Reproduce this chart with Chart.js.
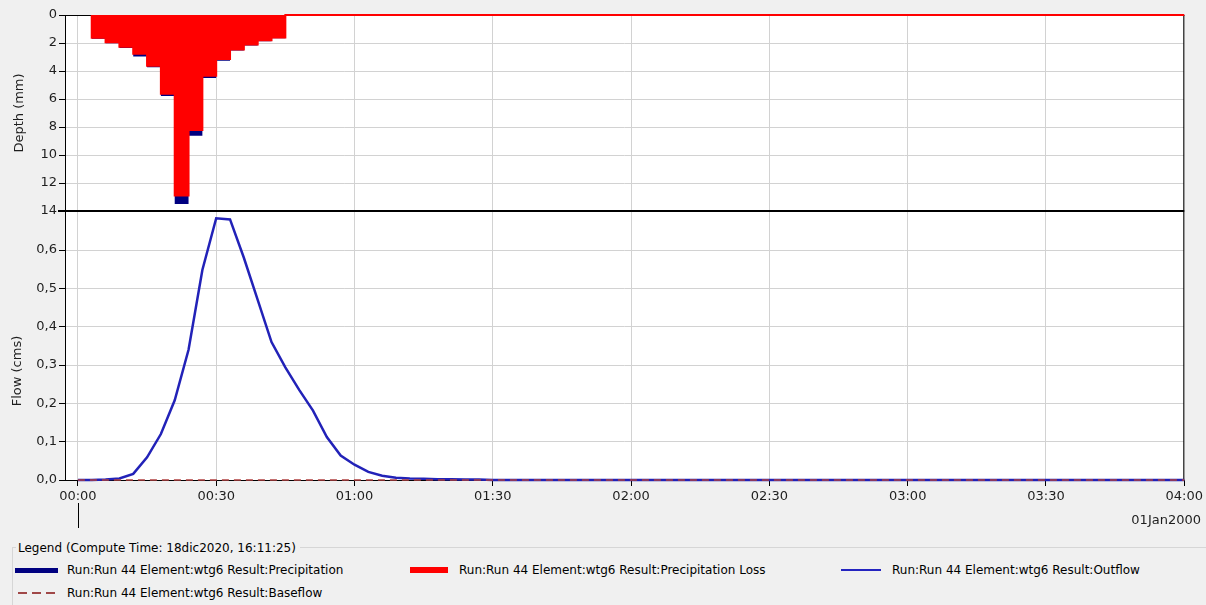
<!DOCTYPE html>
<html>
<head>
<meta charset="utf-8">
<title>wtg6 - Precipitation / Outflow</title>
<script src="https://cdn.jsdelivr.net/npm/chart.js@4.4.0/dist/chart.umd.min.js"></script>
<style>
  html, body { margin: 0; padding: 0; background: #f0f0f0; }
  body { font-family: "DejaVu Sans", sans-serif; font-size: 12px; color: #000; }
  #wrap { position: relative; width: 1206px; height: 605px; overflow: hidden; }
  #hmsChart { position: absolute; left: 0; top: 0; }
  .lg { position: absolute; white-space: nowrap; line-height: 14px; }
  .sw { position: absolute; }
  #lgBox { position: absolute; left: 12px; top: 547px; width: 1194px; height: 60px;
           border-top: 1px solid #d6d6d6; border-left: 1px solid #d6d6d6; }
  #lgTitle { background: #f0f0f0; padding: 0 4px 0 2px; }
</style>
</head>
<body>
<div id="wrap">
  <canvas id="hmsChart" width="1206" height="540"></canvas>

  <div id="lgBox"></div>
  <div class="lg" id="lgTitle" style="left:16px; top:541px;">Legend (Compute Time: 18dic2020, 16:11:25)</div>

  <div class="sw" style="left:15px; top:568px; width:43px; height:5px; background:#000080;"></div>
  <div class="lg" style="left:67px; top:563px;">Run:Run 44 Element:wtg6 Result:Precipitation</div>

  <div class="sw" style="left:410px; top:567px; width:38px; height:6px; background:#ff0000;"></div>
  <div class="lg" style="left:459px; top:563px;">Run:Run 44 Element:wtg6 Result:Precipitation Loss</div>

  <div class="sw" style="left:841px; top:569px; width:40px; height:2px; background:#2424c0;"></div>
  <div class="lg" style="left:892px; top:563px;">Run:Run 44 Element:wtg6 Result:Outflow</div>

  <div class="sw" style="left:18px; top:592px; width:40px; height:2px;
       background:repeating-linear-gradient(90deg, #a04848 0 9px, transparent 9px 14px);"></div>
  <div class="lg" style="left:67px; top:586px;">Run:Run 44 Element:wtg6 Result:Baseflow</div>
</div>

<script>
// time in minutes from 01Jan2000 00:00
// precipitation: value at interval end time (3 min step)
const precipTimes = [3, 6, 9, 12, 15, 18, 21, 24, 27, 30, 33, 36, 39, 42, 45, 48, 240];
const precipDepth = [0, 1.7, 2.02, 2.35, 2.96, 3.74, 5.78, 13.5, 8.62, 4.5, 3.27, 2.54, 2.17, 1.88, 1.66, 0, 0];
const lossDepth   = [0, 1.62, 1.95, 2.27, 2.76, 3.63, 5.62, 12.9, 8.22, 4.34, 3.14, 2.46, 2.1, 1.81, 1.6, 0, 0];

// outflow hydrograph (cms)
const flowTimes = [0, 3, 6, 9, 12, 15, 18, 21, 24, 27, 30, 33, 36, 39, 42, 45, 48, 51, 54, 57,
                   60, 63, 66, 69, 72, 75, 78, 81, 84, 87, 90, 240];
const outflow   = [0, 0, 0.001, 0.004, 0.016, 0.059, 0.12, 0.208, 0.34, 0.548, 0.683, 0.68, 0.58, 0.47,
                   0.36, 0.294, 0.235, 0.181, 0.112, 0.064, 0.04, 0.021, 0.011, 0.006, 0.004, 0.003,
                   0.002, 0.002, 0.001, 0.001, 0, 0];
const baseTimes = [0, 240];
const baseflow  = [0, 0];

const xTicks = [0, 30, 60, 90, 120, 150, 180, 210, 240];
const depthTicks = [0, 2, 4, 6, 8, 10, 12, 14];
const flowTicks = [0, 0.1, 0.2, 0.3, 0.4, 0.5, 0.6];

const pts = (xs, ys) => xs.map((x, i) => ({ x, y: ys[i] }));
const hhmm = (m) => String(Math.floor(m / 60)).padStart(2, "0") + ":" + String(m % 60).padStart(2, "0");

Chart.defaults.font.family = "'DejaVu Sans', sans-serif";
Chart.defaults.font.size = 13;
Chart.defaults.color = "#1e1e1e";

// white plot area, frame, divider and side titles
const hmsFrame = {
  id: "hmsFrame",
  beforeDraw(chart) {
    const { ctx, chartArea: a } = chart;
    ctx.save();
    ctx.fillStyle = "#ffffff";
    ctx.fillRect(a.left, a.top, a.right - a.left, a.bottom - a.top);
    ctx.restore();
  },
  beforeDatasetsDraw(chart) {
    const { ctx, chartArea: a, scales } = chart;
    const mid = Math.round(scales.depth.bottom);
    ctx.save();
    ctx.strokeStyle = "#000";
    ctx.lineWidth = 1;
    ctx.beginPath();
    ctx.moveTo(a.left + 0.5, a.top); ctx.lineTo(a.left + 0.5, a.bottom);
    ctx.moveTo(a.left, Math.round(a.bottom) + 0.5); ctx.lineTo(a.right, Math.round(a.bottom) + 0.5);
    ctx.moveTo(a.right - 0.5, a.top); ctx.lineTo(a.right - 0.5, a.bottom);
    ctx.moveTo(a.left, a.top + 0.5); ctx.lineTo(a.right, a.top + 0.5);
    ctx.stroke();
    ctx.lineWidth = 2;
    ctx.beginPath();
    ctx.moveTo(a.left - 7, mid); ctx.lineTo(a.right, mid);
    ctx.stroke();
    ctx.restore();
  },
  afterDraw(chart) {
    const { ctx, chartArea: a, scales } = chart;
    ctx.save();
    // day marker below 00:00
    const x0 = Math.round(scales.x.getPixelForValue(0)) + 0.5;
    ctx.strokeStyle = "#000";
    ctx.lineWidth = 1;
    ctx.beginPath();
    ctx.moveTo(x0, a.bottom + 23); ctx.lineTo(x0, a.bottom + 48);
    ctx.stroke();

    ctx.fillStyle = "#1e1e1e";
    ctx.font = "13px 'DejaVu Sans', sans-serif";
    ctx.textAlign = "right";
    ctx.textBaseline = "middle";
    ctx.fillText("01Jan2000", 1201, a.bottom + 41);

    ctx.font = "13px 'DejaVu Sans', sans-serif";
    ctx.textAlign = "center";
    ctx.translate(20, 113);
    ctx.rotate(-Math.PI / 2);
    ctx.fillText("Depth (mm)", 0, 0);
    ctx.rotate(Math.PI / 2);
    ctx.translate(-2, 258);
    ctx.rotate(-Math.PI / 2);
    ctx.fillText("Flow (cms)", 0, 0);
    ctx.restore();
  }
};

const gridOpts = { color: "#d2d2d2", tickColor: "#000", tickLength: 6 };

new Chart(document.getElementById("hmsChart"), {
  type: "line",
  data: {
    datasets: [
      {
        label: "Run:Run 44 Element:wtg6 Result:Baseflow",
        data: pts(baseTimes, baseflow),
        yAxisID: "flow",
        borderColor: "#b04040",
        borderWidth: 1.5,
        borderDash: [7, 5],
        pointRadius: 0,
        clip: false,
        order: 0,
      },
      {
        label: "Run:Run 44 Element:wtg6 Result:Precipitation Loss",
        data: pts(precipTimes, lossDepth),
        yAxisID: "depth",
        stepped: "after",
        borderColor: "#ff0000",
        borderWidth: 2,
        backgroundColor: "#ff0000",
        fill: "origin",
        pointRadius: 0,
        clip: false,
        order: 1,
      },
      {
        label: "Run:Run 44 Element:wtg6 Result:Outflow",
        data: pts(flowTimes, outflow),
        yAxisID: "flow",
        borderColor: "#2222b8",
        borderWidth: 2.5,
        pointRadius: 0,
        tension: 0,
        clip: false,
        order: 2,
      },
      {
        label: "Run:Run 44 Element:wtg6 Result:Precipitation",
        data: pts(precipTimes, precipDepth),
        yAxisID: "depth",
        stepped: "after",
        borderWidth: 0,
        borderColor: "#000080",
        backgroundColor: "#000080",
        fill: "origin",
        pointRadius: 0,
        order: 3,
      },
    ],
  },
  options: {
    responsive: false,
    animation: false,
    layout: { padding: { left: 0, top: 15, right: 21, bottom: 0 } },
    plugins: { legend: { display: false }, tooltip: { enabled: false } },
    scales: {
      x: {
        type: "linear",
        min: -2.8,
        max: 240,
        afterBuildTicks: (s) => { s.ticks = xTicks.map((v) => ({ value: v })); },
        ticks: { callback: (v) => hhmm(v), maxRotation: 0, padding: 3, autoSkip: false },
        grid: gridOpts,
        border: { display: false },
        afterFit: (s) => { s.height = 60; },
      },
      flow: {
        type: "linear",
        position: "left",
        stack: "hms",
        stackWeight: 269,
        min: 0,
        max: 0.702,
        afterBuildTicks: (s) => { s.ticks = flowTicks.map((v) => ({ value: v })); },
        ticks: { callback: (v) => v.toFixed(1).replace(".", ","), padding: 2, autoSkip: false },
        grid: gridOpts,
        border: { display: false },
        afterFit: (s) => { s.width = 65; },
      },
      depth: {
        type: "linear",
        position: "left",
        stack: "hms",
        stackWeight: 196,
        reverse: true,
        min: 0,
        max: 14,
        afterBuildTicks: (s) => { s.ticks = depthTicks.map((v) => ({ value: v })); },
        ticks: { padding: 2, autoSkip: false },
        grid: gridOpts,
        border: { display: false },
        afterFit: (s) => { s.width = 65; },
      },
    },
  },
  plugins: [hmsFrame],
});
</script>
</body>
</html>
